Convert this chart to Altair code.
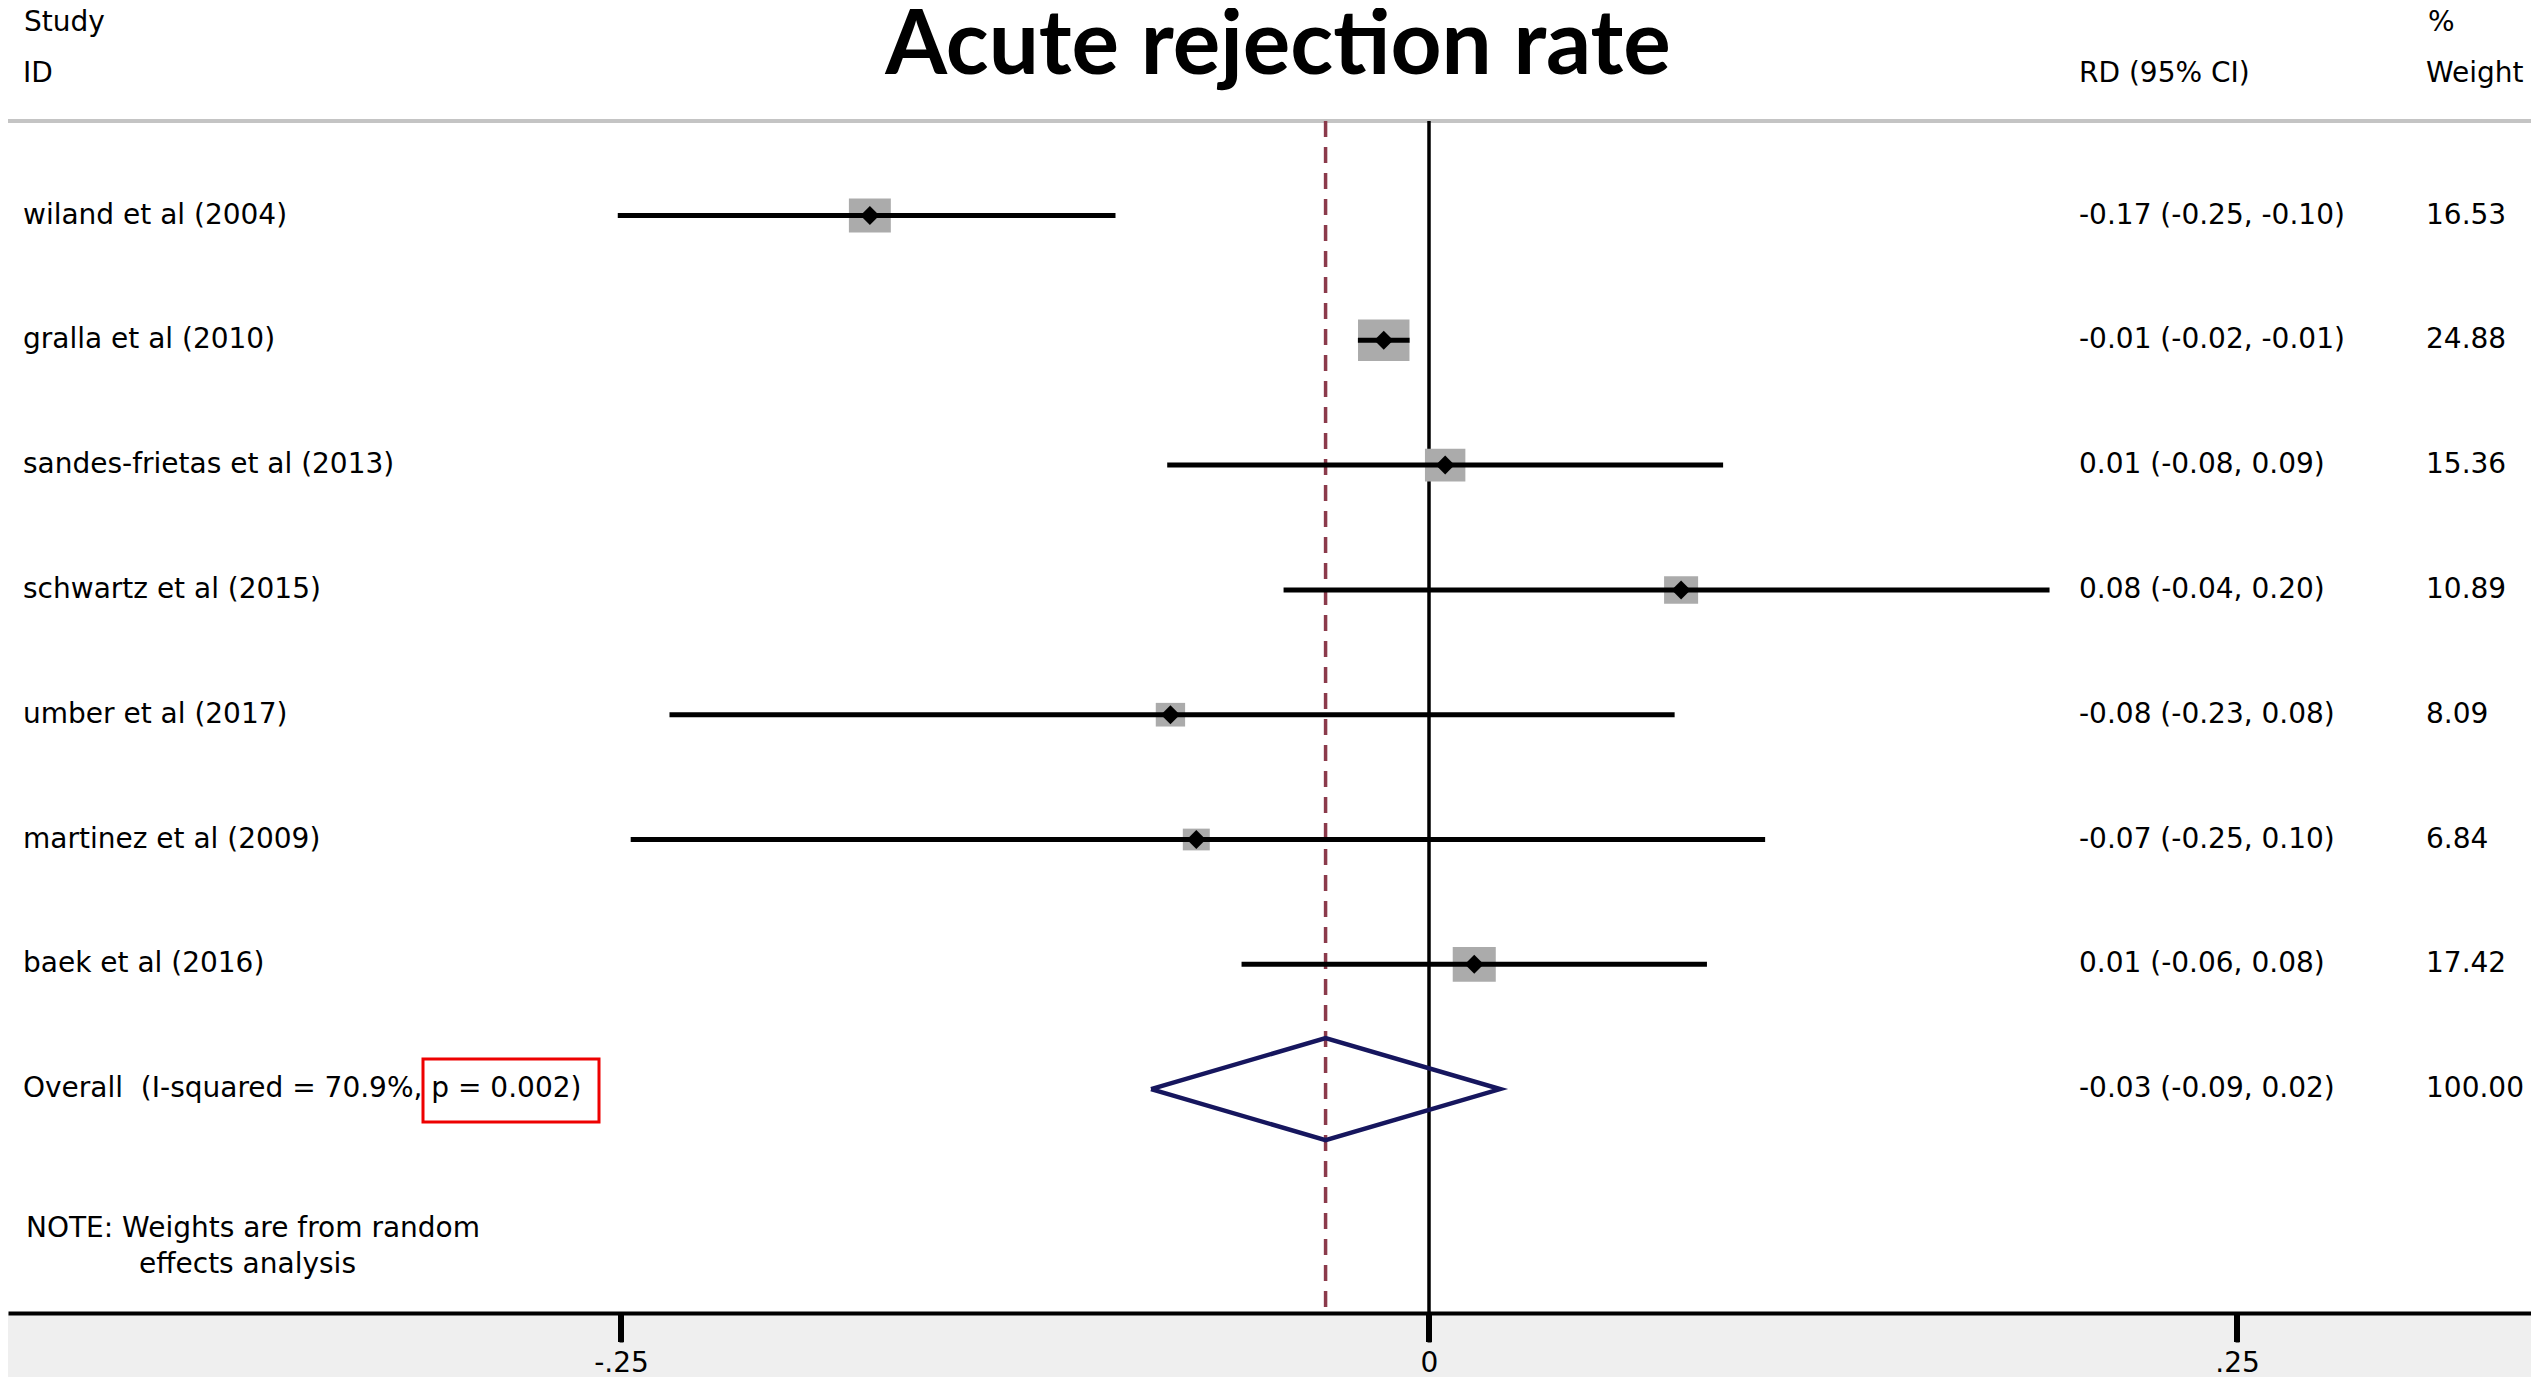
import altair as alt
import pandas as pd

# ---------------- data ----------------
studies = ["wiland et al (2004)", "gralla et al (2010)", "sandes-frietas et al (2013)",
           "schwartz et al (2015)", "umber et al (2017)", "martinez et al (2009)",
           "baek et al (2016)"]
rd = [-0.173, -0.014, 0.005, 0.078, -0.080, -0.072, 0.014]
rd_lo = [-0.251, -0.022, -0.081, -0.045, -0.235, -0.247, -0.058]
rd_hi = [-0.097, -0.006, 0.091, 0.192, 0.076, 0.104, 0.086]
weights = [16.53, 24.88, 15.36, 10.89, 8.09, 6.84, 17.42]
ci_labels = ["-0.17 (-0.25, -0.10)", "-0.01 (-0.02, -0.01)", "0.01 (-0.08, 0.09)",
             "0.08 (-0.04, 0.20)", "-0.08 (-0.23, 0.08)", "-0.07 (-0.25, 0.10)",
             "0.01 (-0.06, 0.08)"]
weight_labels = ["16.53", "24.88", "15.36", "10.89", "8.09", "6.84", "17.42"]

overall_label = "Overall \u00a0(I-squared = 70.9%, p = 0.002)"
overall_es = -0.032
overall_lo = -0.086
overall_hi = 0.022
overall_ci_label = "-0.03 (-0.09, 0.02)"
overall_weight_label = "100.00"

x_ticks = [-0.25, 0, 0.25]
title_text = "Acute rejection rate"
note_lines = ["NOTE: Weights are from random", "effects analysis"]

# ---------------- layout / style ----------------
W, H = 2523, 1305
FONT = "DejaVu Sans"
FS = 28
TICK = 29
x_scale = alt.Scale(domain=[-0.439666, 0.340965], nice=False, zero=False)
y_scale = alt.Scale(domain=[-1.6627, 8.794], reverse=True, nice=False, zero=False)
DIAMOND_HALF = 0.409  # half-height of the pooled diamond, in row units

n = len(studies)
df = pd.DataFrame({
    "study": studies, "rd": rd, "lo": rd_lo, "hi": rd_hi, "w": weights,
    "ci": ci_labels, "wl": weight_labels, "row": list(range(n)),
})
ov_row = n
df_ov = pd.DataFrame({"label": [overall_label], "ci": [overall_ci_label],
                      "wl": [overall_weight_label], "row": [ov_row]})
df_dia = pd.DataFrame({
    "x": [overall_lo, overall_es, overall_hi, overall_es, overall_lo],
    "row": [ov_row, ov_row - DIAMOND_HALF, ov_row, ov_row + DIAMOND_HALF, ov_row],
    "o": [0, 1, 2, 3, 4],
})

X = lambda f: alt.X(f, type="quantitative", scale=x_scale)
Y = lambda f: alt.Y(f, type="quantitative", scale=y_scale, axis=None)

base = alt.Chart(df)
tick_df = pd.DataFrame({"v": x_ticks})

# axis-carrying layer (invisible points)
axis_layer = alt.Chart(tick_df).mark_point(opacity=0).encode(
    x=alt.X("v:Q", scale=x_scale,
            axis=alt.Axis(values=x_ticks, title=None, grid=False,
                          domain=True, domainColor="black", domainWidth=4,
                          ticks=True, tickColor="black", tickWidth=4, tickSize=TICK,
                          labelFont=FONT, labelFontSize=28, labelColor="black",
                          labelPadding=7,
                          labelExpr="datum.value == 0 ? '0' : (datum.value < 0 ? '-' : '') + replace(format(abs(datum.value), '.2f'), '0.', '.')")),
    y=alt.value(H),
)

# tick marks drawn through the x scale (downward from the axis line)
tick_marks = alt.Chart(tick_df).mark_rule(color="#000000", strokeWidth=6, opacity=1).encode(
    x=X("v"), y=alt.value(H), y2=alt.value(H + TICK))

sep = alt.Chart(pd.DataFrame({"a": [0]})).mark_rule(color="#c4c4c4", strokeWidth=4).encode(
    x=alt.value(-5), x2=alt.value(W), y=alt.value(113))

zero_line = alt.Chart(pd.DataFrame({"v": [0]})).mark_rule(color="black", strokeWidth=3.5).encode(
    x=X("v"), y=alt.value(113), y2=alt.value(H))

dash_line = alt.Chart(pd.DataFrame({"v": [overall_es]})).mark_rule(
    color="#8B3A4B", strokeWidth=3.5, strokeDash=[16, 10]).encode(
    x=X("v"), y=alt.value(113), y2=alt.value(H))

boxes = base.mark_point(shape="M-1.24,-1H1.24V1H-1.24Z", filled=True, fill="#ababab",
                        opacity=1, strokeWidth=0).encode(
    x=X("rd"), y=Y("row"),
    size=alt.Size("w:Q", scale=alt.Scale(type="linear", domain=[0, 25], range=[0, 1730]),
                  legend=None))

ci = base.mark_rule(color="black", strokeWidth=5).encode(
    x=X("lo"), x2="hi", y=Y("row"))

dots = base.mark_point(shape="diamond", filled=True, color="black", size=360, opacity=1).encode(
    x=X("rd"), y=Y("row"))

diamond = alt.Chart(df_dia).mark_line(color="#16165e", strokeWidth=4.5, strokeJoin="miter").encode(
    x=X("x"), y=Y("row"), order="o:Q")

txt = dict(font=FONT, fontSize=FS, color="black", align="left", baseline="middle")

study_txt = base.mark_text(**txt).encode(x=alt.value(15), y=Y("row"), text="study:N")
ci_txt = base.mark_text(**txt).encode(x=alt.value(2071), y=Y("row"), text="ci:N")
w_txt = base.mark_text(**txt).encode(x=alt.value(2418), y=Y("row"), text="wl:N")

ov = alt.Chart(df_ov)
ov_txt = ov.mark_text(**txt).encode(x=alt.value(15), y=Y("row"), text="label:N")
ov_ci = ov.mark_text(**txt).encode(x=alt.value(2071), y=Y("row"), text="ci:N")
ov_w = ov.mark_text(**txt).encode(x=alt.value(2418), y=Y("row"), text="wl:N")

red_box = alt.Chart(pd.DataFrame({"a": [0]})).mark_rect(
    filled=False, stroke="#ee0000", strokeWidth=3).encode(
    x=alt.value(415), x2=alt.value(591), y=alt.value(1051), y2=alt.value(1114))

headers = pd.DataFrame({
    "t": ["Study", "ID", "RD (95% CI)", "%", "Weight"],
    "px": [16, 15, 2071, 2420, 2418],
    "py": [15, 66, 66, 15, 66],
})
head_txt = alt.Chart(headers).mark_text(**txt).encode(
    x=alt.X("px:Q", scale=None), y=alt.Y("py:Q", scale=None), text="t:N")

notes = pd.DataFrame({"t": note_lines, "px": [18, 131], "py": [1221, 1257]})
note_txt = alt.Chart(notes).mark_text(**txt).encode(
    x=alt.X("px:Q", scale=None), y=alt.Y("py:Q", scale=None), text="t:N")

title = alt.Chart(pd.DataFrame({"t": [title_text]})).mark_text(
    font="Lato", fontWeight="bold", fontSize=89, color="black",
    align="center", baseline="alphabetic").encode(
    x=alt.value(1270), y=alt.value(66), text="t:N")

chart = alt.layer(
    axis_layer, tick_marks, sep, zero_line, dash_line, boxes, ci, dots, diamond,
    study_txt, ci_txt, w_txt, ov_txt, ov_ci, ov_w, red_box, head_txt, note_txt, title,
).properties(
    width=W, height=H,
    autosize=alt.AutoSizeParams(type="none"),
    padding={"left": 0, "top": 0, "right": 0, "bottom": 64},
    background="#efefef",
).configure_view(stroke=None, fill="white")

chart.save("out.html", embed_options={"renderer": "svg", "actions": False})
